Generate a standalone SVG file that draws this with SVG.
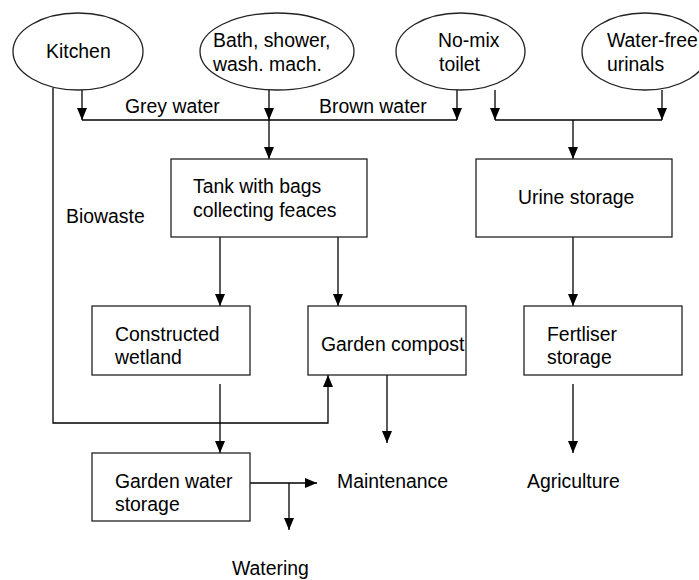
<svg xmlns="http://www.w3.org/2000/svg" width="699" height="580" viewBox="0 0 699 580">
<defs>
<marker id="ah" viewBox="0 0 12 10" refX="12" refY="5" markerWidth="12" markerHeight="10" markerUnits="userSpaceOnUse" orient="auto">
<path d="M0,0 L12,5 L0,10 z" fill="#000"/>
</marker>
<style>
.n{fill:#fff;stroke:#222;stroke-width:1.3}
.t{font-family:"Liberation Sans",Arial,sans-serif;font-size:19.4px;fill:#000}
.c{fill:none;stroke:#000;stroke-width:1.3}
.a{fill:none;stroke:#000;stroke-width:1.3;marker-end:url(#ah)}
</style>
</defs>
<rect width="699" height="580" fill="#fff"/>
<g id="connectors">
<line class="a" x1="82" y1="89" x2="82" y2="120"/>
<line class="a" x1="269" y1="90" x2="269" y2="120"/>
<line class="a" x1="457" y1="90" x2="457" y2="120"/>
<line class="c" x1="82" y1="120" x2="457" y2="120"/>
<line class="a" x1="269" y1="120" x2="269" y2="159"/>
<line class="a" x1="495" y1="90" x2="495" y2="120"/>
<line class="a" x1="662" y1="90" x2="662" y2="120"/>
<line class="c" x1="495" y1="120" x2="662" y2="120"/>
<line class="a" x1="573" y1="120" x2="573" y2="159"/>
<line class="a" x1="220" y1="237" x2="220" y2="306"/>
<line class="a" x1="338" y1="237" x2="338" y2="306"/>
<line class="a" x1="573" y1="237" x2="573" y2="306"/>
<polyline class="a" points="53,88 53,423 328,423 328,375"/>
<line class="a" x1="220" y1="384" x2="220" y2="453"/>
<line class="a" x1="387" y1="375" x2="387" y2="443"/>
<line class="a" x1="573" y1="384" x2="573" y2="453"/>
<line class="a" x1="250" y1="483" x2="317" y2="483"/>
<line class="a" x1="289" y1="483" x2="289" y2="530"/>
</g>
<g id="kitchen">
<ellipse class="n" cx="78" cy="51.5" rx="65" ry="38.5"/>
<text class="t" x="46" y="58">Kitchen</text>
</g>
<g id="bath">
<ellipse class="n" cx="277" cy="51.5" rx="77" ry="38.5"/>
<text class="t" x="213" y="47">Bath, shower,</text>
<text class="t" x="213" y="71">wash. mach.</text>
</g>
<g id="nomix">
<ellipse class="n" cx="460.5" cy="51.5" rx="64.5" ry="38.5"/>
<text class="t" x="438" y="47">No-mix</text>
<text class="t" x="439" y="71">toilet</text>
</g>
<g id="waterfree">
<ellipse class="n" cx="645" cy="51.5" rx="63" ry="38.5"/>
<text class="t" x="607" y="47">Water-free</text>
<text class="t" x="607" y="71">urinals</text>
</g>
<g id="labels">
<text class="t" x="125" y="113">Grey water</text>
<text class="t" x="319" y="113">Brown water</text>
<text class="t" x="66" y="223">Biowaste</text>
</g>
<g id="tank">
<rect class="n" x="171" y="159" width="196" height="78"/>
<text class="t" x="193" y="193">Tank with bags</text>
<text class="t" x="193" y="217">collecting feaces</text>
</g>
<g id="urine">
<rect class="n" x="476" y="159" width="196" height="78"/>
<text class="t" x="518" y="204">Urine storage</text>
</g>
<g id="wetland">
<rect class="n" x="92" y="306" width="158" height="69"/>
<text class="t" x="115" y="341">Constructed</text>
<text class="t" x="115" y="364">wetland</text>
</g>
<g id="compost">
<rect class="n" x="308" y="306" width="158" height="69"/>
<text class="t" x="321" y="351">Garden compost</text>
</g>
<g id="fertiliser">
<rect class="n" x="524" y="306" width="158" height="69"/>
<text class="t" x="547" y="341">Fertliser</text>
<text class="t" x="547" y="364">storage</text>
</g>
<g id="gardenwater">
<rect class="n" x="92" y="453" width="158" height="68"/>
<text class="t" x="115" y="488">Garden water</text>
<text class="t" x="115" y="511">storage</text>
</g>
<g id="maintenance"><text class="t" x="337" y="488">Maintenance</text></g>
<g id="agriculture"><text class="t" x="527" y="488">Agriculture</text></g>
<g id="watering"><text class="t" x="232" y="575">Watering</text></g>
</svg>
